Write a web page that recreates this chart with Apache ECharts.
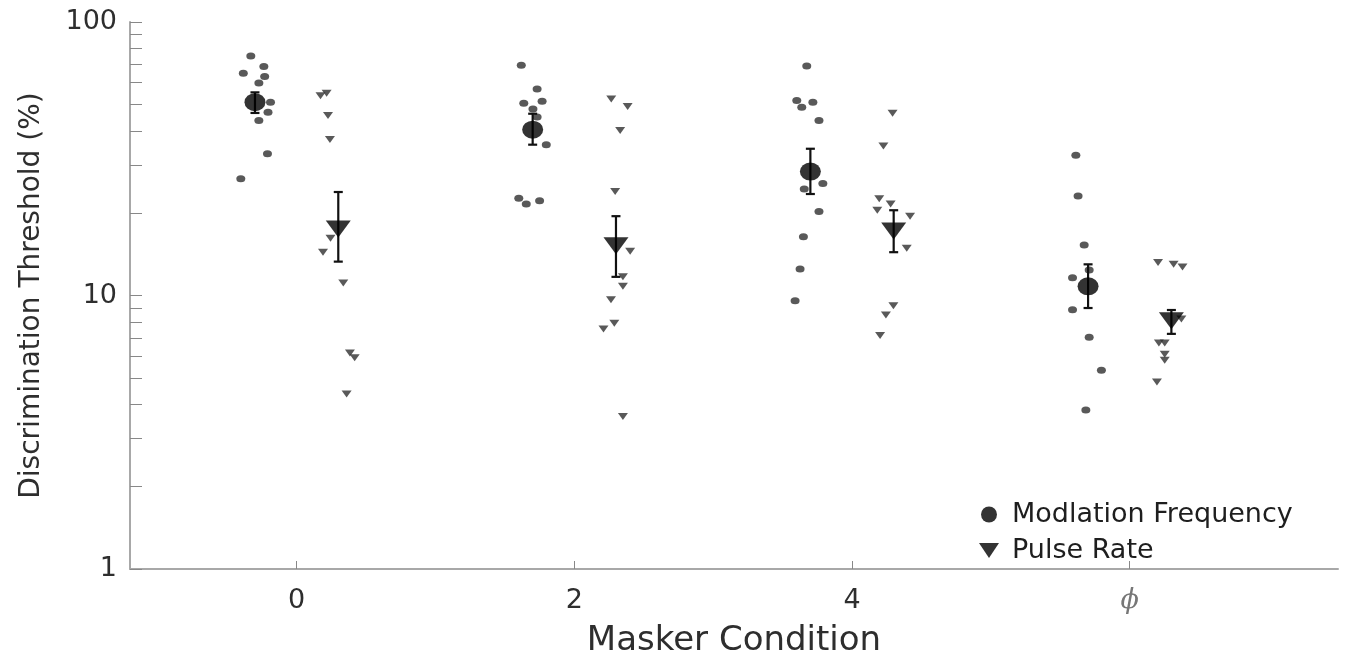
<!DOCTYPE html>
<html>
<head>
<meta charset="utf-8">
<script src="https://cdn.jsdelivr.net/npm/echarts@6/dist/echarts.min.js"></script>
<style>
html,body{margin:0;padding:0;background:#fff;}
#chart{width:1352px;height:663px;}
</style>
</head>
<body>
<div id="chart"></div>
<script>
// ---- data ----
const categories = ['0', '2', '4', 'ϕ'];
const seriesNames = ['Modlation Frequency', 'Pulse Rate'];
const yTickLabels = [1, 10, 100];
const yMinorTicks = [1,2,3,4,5,6,7,8,9,10,20,30,40,50,60,70,80,90,100];

// Modulation frequency: group means and error-bar ends
const mfMean = [50.9, 40.4, 28.4, 10.8];
const mfLow  = [46.5, 35.6, 23.5, 9.0];
const mfHigh = [55.3, 46.2, 34.4, 13.0];
// individual listeners (values) and their horizontal jitter within the group
const mfValues = [
  [75.1, 68.8, 65.0, 63.2, 59.8, 50.9, 46.8, 43.6, 33.0, 26.7],
  [69.5, 56.9, 50.5, 51.3, 48.1, 44.9, 35.6, 22.7, 21.6, 22.2],
  [69.1, 51.6, 48.8, 50.9, 43.6, 25.7, 24.5, 20.3, 16.4, 12.5, 9.57],
  [32.6, 23.1, 15.3, 12.4, 11.6, 8.87, 7.04, 5.33, 3.81]
];
const mfJitter = [
  [-0.165, -0.118, -0.192, -0.115, -0.136, -0.094, -0.103, -0.136, -0.105, -0.201],
  [-0.191, -0.134, -0.182, -0.116, -0.149, -0.134, -0.101, -0.200, -0.173, -0.125],
  [-0.163, -0.199, -0.181, -0.141, -0.119, -0.105, -0.172, -0.119, -0.175, -0.187, -0.205],
  [-0.194, -0.186, -0.164, -0.146, -0.206, -0.206, -0.146, -0.102, -0.158]
];

// Pulse rate
const prMean = [17.5, 15.2, 17.2, 8.09];
const prLow  = [13.3, 11.7, 14.4, 7.24];
const prHigh = [23.9, 19.5, 20.5, 8.85];
const prValues = [
  [53.8, 54.9, 45.5, 37.2, 16.2, 14.4, 11.1, 6.16, 5.92, 4.36],
  [52.3, 49.1, 40.1, 24.0, 14.5, 11.7, 10.8, 9.65, 7.91, 7.55, 3.61],
  [46.4, 35.2, 22.6, 21.6, 20.5, 19.5, 14.9, 9.18, 8.48, 7.14],
  [13.2, 13.0, 12.7, 8.2, 6.7, 6.7, 6.1, 5.8, 4.83]
];
const prJitter = [
  [0.086, 0.108, 0.113, 0.120, 0.122, 0.095, 0.168, 0.192, 0.209, 0.180],
  [0.133, 0.192, 0.165, 0.147, 0.201, 0.175, 0.175, 0.132, 0.144, 0.105, 0.175],
  [0.146, 0.113, 0.098, 0.139, 0.091, 0.209, 0.197, 0.149, 0.122, 0.101],
  [0.102, 0.158, 0.190, 0.186, 0.105, 0.126, 0.126, 0.126, 0.098]
];

// ---- presentation ----
const groupOffset = 0.15;
const ellipse = 'path://M0,50A50,50,0,1,1,100,50A50,50,0,1,1,0,50Z';
const triDown = 'path://M0,0L100,0L50,75Z';
const FONT = 'DejaVu Sans';

function pts(values, jitter) {
  const out = [];
  values.forEach((arr, g) => arr.forEach((v, i) => out.push([g + jitter[g][i], v])));
  return out;
}
function meanPts(means, off) { return means.map((v, g) => [g + off, v]); }
function errPts(low, high, off) { return low.map((lo, g) => [g + off, lo, high[g]]); }

function errRender(params, api) {
  const x = api.value(0);
  const p1 = api.coord([x, api.value(1)]);
  const p2 = api.coord([x, api.value(2)]);
  const hw = 4.5;
  const st = { stroke: '#111', lineWidth: 2.2 };
  return {
    type: 'group',
    children: [
      { type: 'line', shape: { x1: p1[0], y1: p1[1], x2: p2[0], y2: p2[1] }, style: st },
      { type: 'line', shape: { x1: p1[0] - hw, y1: p1[1], x2: p1[0] + hw, y2: p1[1] }, style: st },
      { type: 'line', shape: { x1: p2[0] - hw, y1: p2[1], x2: p2[0] + hw, y2: p2[1] }, style: st }
    ]
  };
}

const chart = echarts.init(document.getElementById('chart'), null, { renderer: 'canvas' });
chart.setOption({
  animation: false,
  backgroundColor: '#fff',
  grid: { left: 130, right: 14, top: 22, bottom: 90, containLabel: false },
  legend: {
    orient: 'vertical',
    left: 979,
    top: 501,
    itemWidth: 20,
    itemHeight: 16,
    itemGap: 9,
    padding: 0,
    data: [
      { name: seriesNames[0], icon: ellipse },
      { name: seriesNames[1], icon: triDown }
    ],
    textStyle: { fontFamily: FONT, fontSize: 27, color: '#1e1e1e', padding: [0, 0, 0, 8] }
  },
  xAxis: {
    type: 'value',
    min: -0.6,
    max: 3.75,
    name: 'Masker Condition',
    nameLocation: 'middle',
    nameGap: 55,
    nameTextStyle: { fontFamily: FONT, fontSize: 34, color: '#2e2e2e' },
    splitLine: { show: false },
    axisLine: { onZero: false, lineStyle: { color: '#a8a8a8', width: 2 } },
    axisTick: { inside: true, length: 8, customValues: [0, 1, 2, 3], lineStyle: { color: '#888', width: 1 } },
    axisLabel: {
      customValues: [0, 1, 2, 3],
      margin: 18,
      fontFamily: FONT,
      fontSize: 27,
      color: '#2e2e2e',
      formatter: function (v) {
        const i = Math.round(v);
        return i === 3 ? '{phi|' + categories[i] + '}' : categories[i];
      },
      rich: {
        phi: { fontFamily: 'DejaVu Serif', fontStyle: 'italic', fontSize: 27, color: '#777' }
      }
    }
  },
  yAxis: {
    type: 'log',
    logBase: 10,
    min: 1,
    max: 100,
    name: 'Discrimination Threshold (%)',
    nameLocation: 'middle',
    nameRotate: 90,
    nameGap: 84,
    nameTextStyle: { fontFamily: FONT, fontSize: 28, color: '#2e2e2e' },
    splitLine: { show: false },
    axisLine: { show: true, onZero: false, lineStyle: { color: '#a8a8a8', width: 2 } },
    axisTick: { inside: true, length: 12, customValues: yMinorTicks, lineStyle: { color: '#888', width: 1 } },
    axisLabel: {
      customValues: yTickLabels,
      margin: 13,
      fontFamily: FONT,
      fontSize: 27,
      color: '#2e2e2e'
    }
  },
  series: [
    {
      name: 'mf-individual',
      type: 'scatter',
      symbol: ellipse,
      symbolSize: [9, 7],
      itemStyle: { color: '#2f2f2f' },
      data: pts(mfValues, mfJitter),
      z: 2
    },
    {
      name: 'pr-individual',
      type: 'scatter',
      symbol: triDown,
      symbolSize: [10, 7],
      itemStyle: { color: '#2f2f2f' },
      data: pts(prValues, prJitter),
      z: 2
    },
    {
      name: 'mf-err',
      type: 'custom',
      renderItem: errRender,
      encode: { x: 0, y: [1, 2] },
      data: errPts(mfLow, mfHigh, -groupOffset),
      z: 3
    },
    {
      name: 'pr-err',
      type: 'custom',
      renderItem: errRender,
      encode: { x: 0, y: [1, 2] },
      data: errPts(prLow, prHigh, groupOffset),
      z: 3
    },
    {
      name: seriesNames[0],
      type: 'scatter',
      symbol: ellipse,
      symbolSize: [21, 18],
      itemStyle: { color: '#000' },
      data: meanPts(mfMean, -groupOffset),
      z: 4
    },
    {
      name: seriesNames[1],
      type: 'scatter',
      symbol: triDown,
      symbolSize: [25, 17],
      itemStyle: { color: '#000' },
      data: meanPts(prMean, groupOffset),
      z: 4
    }
  ]
});
</script>
</body>
</html>
